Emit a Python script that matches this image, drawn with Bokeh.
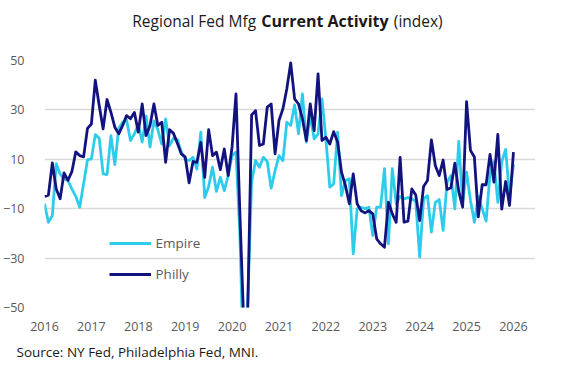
import pandas as pd
from bokeh.plotting import figure
from bokeh.layouts import column
from bokeh.models import (Range1d, FixedTicker, Label, Legend, LegendItem, ColumnDataSource, Title)
from bokeh.embed import file_html
from bokeh.resources import INLINE

# ---------------- data ----------------
months = pd.date_range("2016-01-01", "2026-01-01", freq="MS")

empire = [
    -8, -15.5, -12.8, 8.2, 4, 2, 1.4, -2, -5, -9.4, 0, 9.8,            # 2016
    10.2, 20, 18.5, 4.1, 3.8, 19.6, 7.9, 22.6, 25, 26, 17.6, 20.3,     # 2017
    24, 17, 27.5, 15, 25.5, 22, 16.2, 26.4, 15.5, 18.5, 18, 13,        # 2018
    10, 9.5, 10.8, 6, 21, -5.5, -1, 6.8, -3, 2.7, -2.7, 3.4,           # 2019
    11.5, 12.9, -21, -78, -48, 0.7, 9.5, 6.8, 10.8, 9.1, -1.7, 5.4,    # 2020
    11.5, 9.5, 25, 23.7, 32, 20.3, 36.5, 16.9, 27.7, 18.3, 20.3, 34.5, # 2021
    18.3, -1.3, 0, 21, -4.7, 1.4, 2.1, -28.3, -10, -9.4, -10, -9.4,    # 2022
    -20.9, -9.4, -9.4, 6.2, -24.2, 6.2, -8, -5, -6, -5.5, -6, -7,      # 2023
    -29.6, -6, -4.7, -19.5, -7.4, -6.3, -18.8, 0.7, 3.4, -10.1, 17.2, -7.4,  # 2024
    4.8, -6.7, -15.5, -5, -10, -15, 4, 9, -7.4, 9, 14, -5,             # 2025
    8,                                                                 # 2026
]

philly = [
    -5, -4.5, 8.5, -2, -6, 4.5, 1.5, 5, 13, 11.5, 11, 22.5,            # 2016
    24.3, 42, 31.8, 22.3, 34.2, 29, 23, 20.3, 23.7, 27.7, 26.4, 29,    # 2017
    21, 32.4, 19.6, 23.7, 32.4, 23.7, 25, 8.8, 22, 20.5, 16.5, 12.2,   # 2018
    11, 0.5, 9.1, 8.8, 16.9, 2.7, 22, 11.5, 12.9, 5.8, 14.2, 3.4,      # 2019
    15, 36.5, -12, -57, -52, 28, 29.7, 15.6, 16.2, 31.1, 32.4, 12.2,   # 2020
    25.7, 30.4, 38.5, 49, 34.5, 32.4, 26.4, 17.6, 32.4, 21.6, 44.6, 17.6,  # 2021
    18.9, 16.2, 21.2, 16.9, 4.8, -0.6, -8, 4.1, -8, -10.8, -11.7, -10.8,   # 2022
    -12.1, -22.2, -24.2, -25.6, -7.4, -12.1, -15.5, 10.8, -15.5, -15, -2, -4.5,  # 2023
    -14.8, -1, 1.4, 17.9, 7.5, 3.4, 9.7, -2.2, -1.5, 8.4, -3, -9.4,    # 2024
    33.3, 13.6, 10.9, -13.3, -0.3, -0.3, 12, 0.8, 20.1, -10.2, 1, -8.7,  # 2025
    12.9,                                                              # 2026
]

year_ticks = [2016, 2017, 2018, 2019, 2020, 2021, 2022, 2023, 2024, 2025, 2026]
year_labels = ["2016", "2017", "2018", "2019", "2020", "2021", "2022", "2023", "2024", "2025", "2026"]
y_ticks = [-50, -30, -10, 10, 30, 50]

series_names = ["Empire", "Philly"]
title_parts = ["Regional Fed Mfg", "Current Activity", "(index)"]
source_text = "Source: NY Fed, Philadelphia Fed, MNI."

# ---------------- styling ----------------
C_EMPIRE = "#2ECCEB"
C_PHILLY = "#13137F"
FONT = "Open Sans"
GRAY = "#595959"
TXT = "#1a1a1a"
W = 566
BL, BR = 36, 31          # left / right borders shared by all stacked figures
FX0, FX1 = 44, 543       # page x of the plot frame edges

# ---- title strip (its frame lines up with the chart frame) ----
t = figure(width=W, height=44, output_backend="svg", toolbar_location=None,
           x_range=Range1d(FX0, FX1), y_range=Range1d(0, 44),
           x_axis_location=None, y_axis_location=None,
           min_border_left=BL, min_border_right=BR, min_border_top=0, min_border_bottom=0)
t.outline_line_color = None
t.xgrid.visible = False
t.ygrid.visible = False
t.add_layout(Label(x=259, y=24, text=title_parts[0], text_align="right",
                   text_baseline="middle", text_font=FONT, text_font_size="15.5px",
                   text_color=TXT))
t.add_layout(Label(x=329, y=24, text=title_parts[1], text_align="center",
                   text_baseline="middle", text_font=FONT, text_font_size="16px",
                   text_font_style="bold", text_color=TXT))
t.add_layout(Label(x=399, y=24, text=title_parts[2], text_align="left",
                   text_baseline="middle", text_font=FONT, text_font_size="15.5px",
                   text_color=TXT))

# ---- main chart ----
x_frac = [d.year + (d.month - 1) / 12 for d in months]
src = ColumnDataSource(dict(x=x_frac, empire=empire, philly=philly))

p = figure(width=W, height=326, output_backend="svg", toolbar_location=None,
           x_range=Range1d(2016, 2026.47), y_range=Range1d(-50, 50),
           min_border_left=BL, min_border_right=BR, min_border_top=16, min_border_bottom=63)
p.outline_line_color = None

r_emp = p.line("x", "empire", source=src, line_color=C_EMPIRE, line_width=2.8, line_join="round")
r_phl = p.line("x", "philly", source=src, line_color=C_PHILLY, line_width=2.8, line_join="round")

p.xaxis.ticker = FixedTicker(ticks=year_ticks)
p.xaxis.major_label_overrides = {t_: l for t_, l in zip(year_ticks, year_labels)}
p.yaxis.ticker = FixedTicker(ticks=y_ticks)
for ax in (p.xaxis[0], p.yaxis[0]):
    ax.axis_line_color = None
    ax.major_tick_line_color = None
    ax.minor_tick_line_color = None
    ax.major_label_text_font = FONT
    ax.major_label_text_font_size = "12.5px"
    ax.major_label_text_color = GRAY
p.xaxis.major_label_standoff = 8
p.yaxis.major_label_standoff = 14

p.xgrid.visible = False
p.ygrid.grid_line_color = "#D9D9D9"
p.ygrid.grid_line_width = 1.5

legend = Legend(items=[LegendItem(label=series_names[0], renderers=[r_emp]),
                       LegendItem(label=series_names[1], renderers=[r_phl])],
                location=(64.5, 23), orientation="vertical",
                glyph_width=42, glyph_height=20, label_height=20, label_standoff=5,
                spacing=11, padding=0, margin=0,
                border_line_alpha=0, background_fill_alpha=0,
                label_text_font=FONT, label_text_font_size="13.5px", label_text_color=GRAY)
p.add_layout(legend)

# source line, drawn as a title under the axis (not clipped by the frame)
p.add_layout(Title(text=source_text, align="left", offset=-28, standoff=15,
                   text_font=FONT, text_font_size="13.5px", text_font_style="normal",
                   text_color=TXT), "below")

layout = column(t, p, spacing=0)
open("out.html", "w").write(file_html(layout, INLINE))
